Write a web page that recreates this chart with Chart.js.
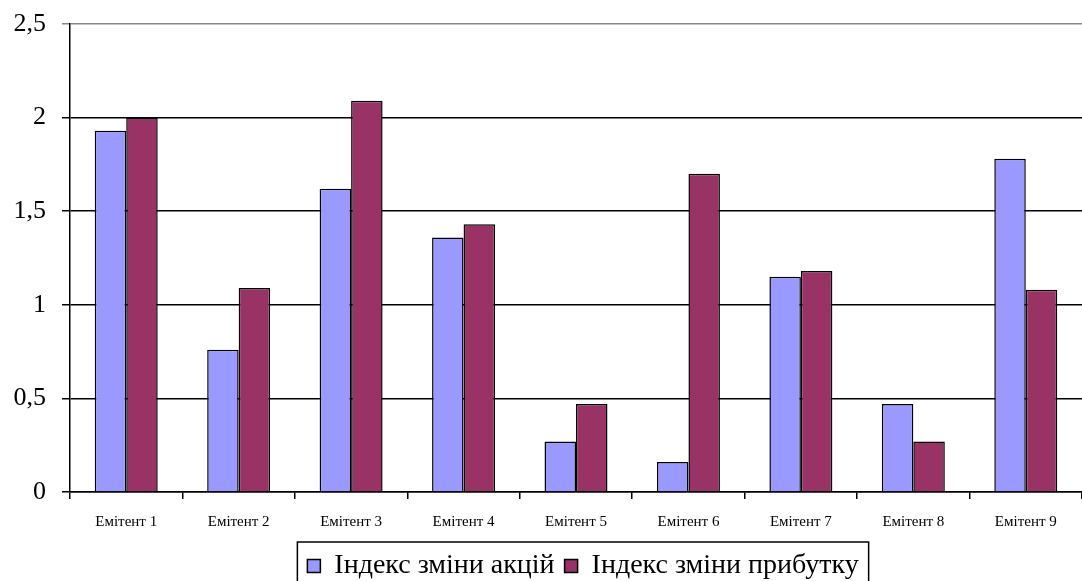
<!DOCTYPE html>
<html>
<head>
<meta charset="utf-8">
<script src="https://cdn.jsdelivr.net/npm/chart.js@4"></script>
<style>
  body { margin: 0; background: #fff; }
  #wrap { width: 1082px; height: 581px; }
</style>
</head>
<body>
<div id="wrap"><canvas id="myChart"></canvas></div>
<script>
var categories = ['Емітент 1', 'Емітент 2', 'Емітент 3', 'Емітент 4', 'Емітент 5', 'Емітент 6', 'Емітент 7', 'Емітент 8', 'Емітент 9'];
var akcii = [1.93, 0.76, 1.62, 1.36, 0.27, 0.16, 1.15, 0.47, 1.78];
var prybutok = [2.0, 1.09, 2.09, 1.43, 0.47, 1.70, 1.18, 0.27, 1.08];
var seriesNames = ['Індекс зміни акцій', 'Індекс зміни прибутку'];

var serif = '"Liberation Serif", "Times New Roman", serif';

// легенду трохи вправо і вниз + рамка навколо неї
var legendBox = {
  id: 'legendBox',
  afterLayout: function(chart) {
    var lg = chart.legend;
    var dx = 42, dy = 9;
    lg.left += dx;
    lg.right += dx;
    lg.top += dy;
    lg.bottom += dy;
    lg.legendHitBoxes.forEach(function(h) { h.left += dx; h.top += dy; });
  },
  afterDraw: function(chart) {
    var lg = chart.legend;
    if (!lg || !lg.legendHitBoxes.length) return;
    var hb = lg.legendHitBoxes;
    var left = hb[0].left - 10;
    var right = hb[hb.length - 1].left + hb[hb.length - 1].width + 10;
    var ctx = chart.ctx;
    ctx.save();
    ctx.strokeStyle = '#000';
    ctx.lineWidth = 1.5;
    ctx.strokeRect(left, 542, right - left, 60);
    ctx.restore();
  }
};

var ctx = document.getElementById('myChart');
var chart = new Chart(ctx, {
  type: 'bar',
  data: {
    labels: categories,
    datasets: [{
      label: seriesNames[0],
      data: akcii,
      backgroundColor: '#9999ff',
      borderColor: '#000',
      borderWidth: 1.5
    }, {
      label: seriesNames[1],
      data: prybutok,
      backgroundColor: '#993366',
      borderColor: '#000',
      borderWidth: 1.5
    }]
  },
  options: {
    responsive: true,
    maintainAspectRatio: false,
    animation: false,
    layout: { padding: { top: 24, right: 0, left: 0, bottom: 0 } },
    datasets: { bar: { categoryPercentage: 0.56, barPercentage: 1 } },
    plugins: {
      tooltip: { enabled: false },
      legend: {
        position: 'bottom',
        labels: {
          boxWidth: 13,
          boxHeight: 13,
          padding: 10,
          color: '#000',
          font: { family: serif, size: 28 }
        }
      }
    },
    scales: {
      x: {
        grid: { drawOnChartArea: false, drawTicks: true, tickLength: 7, color: '#000', lineWidth: 1.5 },
        border: { color: '#000', width: 1.5 },
        ticks: { color: '#000', padding: 14, maxRotation: 0,
          font: { family: serif, size: 15 } },
        afterFit: function(scale) { scale.height = 41; }
      },
      y: {
        min: 0,
        max: 2.5,
        grid: {
          color: function(c) { return c.tick && c.tick.value === 2.5 ? '#888' : '#000'; },
          lineWidth: 1.5,
          tickLength: 8
        },
        border: { color: '#000', width: 1.5 },
        ticks: {
          stepSize: 0.5,
          color: '#000',
          padding: 16,
          font: { family: serif, size: 26, lineHeight: 0.5 },
          callback: function(v) { return String(v).replace('.', ','); }
        },
        afterFit: function(scale) { scale.width = 70; }
      }
    }
  },
  plugins: [legendBox]
});
</script>
</body>
</html>
